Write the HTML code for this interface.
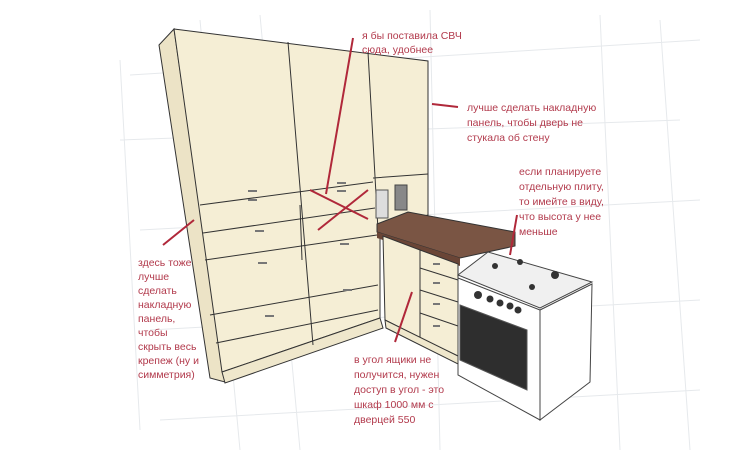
<!DOCTYPE html>
<html><head><meta charset="utf-8"><style>
body{margin:0;width:750px;height:455px;background:#fff;overflow:hidden}
svg{display:block}
.t{font-family:"Liberation Sans",sans-serif;font-size:10.5px;fill:#b23a4c}
</style></head><body>
<svg width="750" height="455" viewBox="0 0 750 455">
<g stroke="#e6e9ec" stroke-width="1" fill="none">
<path d="M130 75 L700 40 M120 140 L680 120 M140 230 L700 200 M150 330 L700 300 M160 420 L700 390 M200 20 L240 450 M260 15 L300 450 M430 10 L440 450 M600 15 L620 450 M660 20 L690 450 M120 60 L140 430"/>
</g>
<!-- tall cabinet side -->
<polygon points="159,45 174,29 225,382 210,378" fill="#ece3c6" stroke="#333" stroke-width="1"/>
<!-- tall cabinet front -->
<polygon points="174,29 428,61 428,215 380,228 380,318 222,372" fill="#f5eed5" stroke="#333" stroke-width="1"/>
<polygon points="222,372 380,318 383,328 225,383" fill="#efe7cc" stroke="#333" stroke-width="1"/>
<g stroke="#333" stroke-width="1" fill="none">
<path d="M288,42 L313,345 M368,52 L378,230 M200,205 L373,182 M373,178 L428,174"/>
<path d="M203,233 L375,208 M205,260 L377,235 M210,315 L378,285 M216,343 L378,310"/>
<path d="M300,205 L302,260"/>
</g>
<g fill="#777"><rect x="248" y="190" width="9" height="2"/><rect x="248" y="199" width="9" height="2"/><rect x="255" y="230" width="9" height="2"/><rect x="258" y="262" width="9" height="2"/><rect x="265" y="315" width="9" height="2"/><rect x="337" y="182" width="9" height="2"/><rect x="337" y="190" width="9" height="2"/><rect x="340" y="243" width="9" height="2"/><rect x="343" y="289" width="9" height="2"/></g>
<!-- appliances -->
<rect x="376" y="190" width="12" height="28" fill="#ddd" stroke="#555"/>
<rect x="395" y="185" width="12" height="25" fill="#888" stroke="#444"/>
<!-- counter -->
<polygon points="377,224 408,212 515,232 515,246 460,258 377,232" fill="#7a5544" stroke="#333"/>
<polygon points="377,232 460,258 460,266 377,238" fill="#6a4536"/>
<!-- lower corner cabinet -->
<polygon points="383,236 420,250 420,338 385,320" fill="#f5eed5" stroke="#333"/>
<polygon points="420,250 458,264 458,356 420,338" fill="#f5eed5" stroke="#333"/>
<polygon points="385,320 458,356 458,364 386,328" fill="#efe7cc" stroke="#333"/>
<g stroke="#333" fill="none"><path d="M420,268 L458,280 M420,290 L458,302 M420,313 L458,326"/></g>
<g fill="#777"><rect x="433" y="263" width="7" height="2"/><rect x="433" y="282" width="7" height="2"/><rect x="433" y="303" width="7" height="2"/><rect x="433" y="325" width="7" height="2"/></g>
<!-- stove -->
<polygon points="458,275 488,252 592,282 540,308" fill="#f0f0f0" stroke="#444"/>
<polygon points="458,278 540,310 540,420 458,375" fill="#fff" stroke="#444"/>
<polygon points="540,310 592,284 590,382 540,420" fill="#fff" stroke="#444"/>
<polygon points="460,305 527,330 527,390 460,360" fill="#2e2e2e" stroke="#555"/>
<g fill="#333"><circle cx="478" cy="295" r="4"/><circle cx="490" cy="299" r="3.5"/><circle cx="500" cy="303" r="3.5"/><circle cx="510" cy="306" r="3.5"/><circle cx="518" cy="310" r="3.5"/>
<circle cx="495" cy="266" r="3"/><circle cx="520" cy="262" r="3"/><circle cx="555" cy="275" r="4"/><circle cx="532" cy="287" r="3"/></g>
<!-- red annotation lines -->
<g stroke="#b0283a" stroke-width="2" fill="none">
<path d="M353,38 L326,194 M310,190 L368,219 M368,190 L318,230 M432,104 L458,107 M194,220 L163,245 M412,292 L395,342 M517,215 L510,255"/>
</g>
<text class="t" x="362" y="39">я бы поставила СВЧ</text>
<text class="t" x="362" y="53">сюда, удобнее</text>
<text class="t" x="467" y="111">лучше сделать накладную</text>
<text class="t" x="467" y="126">панель, чтобы дверь не</text>
<text class="t" x="467" y="141">стукала об стену</text>
<text class="t" x="519" y="175">если планируете</text>
<text class="t" x="519" y="190">отдельную плиту,</text>
<text class="t" x="519" y="205">то имейте в виду,</text>
<text class="t" x="519" y="220">что высота у нее</text>
<text class="t" x="519" y="235">меньше</text>
<text class="t" x="138" y="266">здесь тоже</text>
<text class="t" x="138" y="280">лучше</text>
<text class="t" x="138" y="294">сделать</text>
<text class="t" x="138" y="308">накладную</text>
<text class="t" x="138" y="322">панель,</text>
<text class="t" x="138" y="336">чтобы</text>
<text class="t" x="138" y="350">скрыть весь</text>
<text class="t" x="138" y="364">крепеж (ну и</text>
<text class="t" x="138" y="378">симметрия)</text>
<text class="t" x="354" y="363">в угол ящики не</text>
<text class="t" x="354" y="378">получится, нужен</text>
<text class="t" x="354" y="393">доступ в угол - это</text>
<text class="t" x="354" y="408">шкаф 1000 мм с</text>
<text class="t" x="354" y="423">дверцей 550</text>
</svg>
</body></html>
